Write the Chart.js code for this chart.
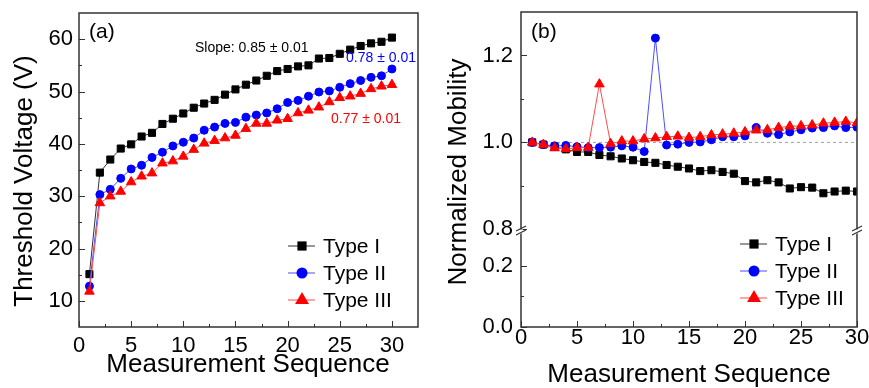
<!DOCTYPE html>
<html>
<head>
<meta charset="utf-8">
<script src="https://cdn.jsdelivr.net/npm/chart.js@4.4.0/dist/chart.umd.min.js"></script>
<style>
  html, body { margin: 0; padding: 0; background: #fff; }
  #wrap { position: relative; width: 869px; height: 388px; overflow: hidden; }
  canvas { position: absolute; top: 0; }
  #voltageChart { left: 0; }
  #mobilityChart { left: 435px; }
</style>
</head>
<body>
<div id="wrap">
  <canvas id="voltageChart" width="435" height="388"></canvas>
  <canvas id="mobilityChart" width="434" height="388"></canvas>
</div>
<script>
const sequence = [1, 2, 3, 4, 5, 6, 7, 8, 9, 10, 11, 12, 13, 14, 15,
  16, 17, 18, 19, 20, 21, 22, 23, 24, 25, 26, 27, 28, 29, 30];
const seriesNames = ["Type I", "Type II", "Type III"];

// (a) threshold voltage, V
const voltageTypeI = [15.1, 34.5, 37.0, 39.1, 39.9, 41.4, 42.1, 43.8, 44.8, 45.8,
  46.9, 47.7, 48.4, 49.4, 50.4, 51.3, 52.1, 53.0, 53.9, 54.3,
  54.8, 55.0, 56.3, 56.4, 57.2, 58.0, 58.7, 59.2, 59.5, 60.3];
const voltageTypeII = [12.8, 30.3, 31.3, 33.4, 35.2, 35.9, 37.4, 38.4, 39.6, 40.3,
  41.1, 42.6, 43.2, 43.9, 44.1, 45.1, 45.5, 45.9, 46.7, 47.9,
  48.3, 49.1, 49.9, 50.1, 50.8, 51.5, 52.1, 52.7, 53.0, 54.3];
const voltageTypeIII = [11.8, 28.7, 30.0, 30.9, 32.7, 33.8, 34.4, 36.3, 36.7, 37.6,
  38.9, 40.1, 40.6, 41.1, 41.6, 42.9, 43.9, 43.9, 44.5, 44.8,
  45.9, 46.4, 47.0, 48.0, 48.8, 49.1, 49.6, 50.5, 51.0, 51.3];
const slopeLabels = ["Slope: 0.85 \u00b1 0.01", "0.78 \u00b1 0.01", "0.77 \u00b1 0.01"];

// (b) normalized mobility
const mobilityTypeI = [1.000, 0.995, 0.990, 0.984, 0.978, 0.978, 0.971, 0.968, 0.963, 0.959,
  0.955, 0.953, 0.948, 0.944, 0.940, 0.934, 0.936, 0.932, 0.928, 0.911,
  0.908, 0.913, 0.908, 0.894, 0.897, 0.896, 0.883, 0.887, 0.889, 0.887];
const mobilityTypeII = [1.000, 0.995, 0.992, 0.993, 0.990, 0.988, 0.988, 0.989, 0.992, 0.989,
  0.979, 1.240, 0.994, 0.996, 1.000, 1.001, 1.006, 1.013, 1.013, 1.015,
  1.034, 1.021, 1.018, 1.024, 1.029, 1.033, 1.034, 1.038, 1.034, 1.035];
const mobilityTypeIII = [1.000, 0.995, 0.987, 0.985, 0.988, 0.988, 1.134, 0.997, 1.003, 1.003,
  1.008, 1.010, 1.013, 1.014, 1.011, 1.013, 1.017, 1.019, 1.021, 1.024,
  1.028, 1.029, 1.034, 1.037, 1.038, 1.040, 1.044, 1.046, 1.048, 1.045];
const unityLevel = [1.0, 1.0];
const unityRange = [0, 30];

// tick labels
const sequenceTicks = [0, 5, 10, 15, 20, 25, 30];
const sequenceMinor = [2.5, 7.5, 12.5, 17.5, 22.5, 27.5];
const voltageTicks = [10, 20, 30, 40, 50, 60];
const voltageMinor = [15, 25, 35, 45, 55];
const mobilityUpperTicks = [0.8, 1.0, 1.2];
const mobilityUpperMinor = [0.9, 1.1];
const mobilityLowerTicks = [0.0, 0.2];
const mobilityLowerMinor = [0.1];

const FONT = "'Liberation Sans', Arial, sans-serif";
const FRAME = "#333333";

const looks = [
  { marker: "rect", radius: 5, fill: "#000000", line: "#333333", legendRadius: 6.5 },
  { marker: "circle", radius: 4, fill: "#0000ff", line: "#4d4dff", legendRadius: 5.5 },
  { marker: "triangle", radius: 5.5, fill: "#ff0000", line: "#ff4d4d", legendRadius: 8 }
];

function points(values) {
  return sequence.map((x, i) => ({ x: x, y: values[i] }));
}

function series(i, values, yAxisID) {
  const s = looks[i];
  return {
    label: seriesNames[i],
    data: points(values),
    yAxisID: yAxisID,
    borderColor: s.line,
    borderWidth: 1,
    pointStyle: s.marker,
    pointRadius: s.radius,
    pointBackgroundColor: s.fill,
    pointBorderColor: s.fill,
    pointBorderWidth: 1,
    tension: 0,
    fill: false,
    order: 3 - i,
    legendIndex: i
  };
}

function fixedTicks(list) {
  return (scale) => { scale.ticks = list.map((v) => ({ value: v })); };
}

function fitX(height) {
  return (scale) => { scale.height = height; scale.paddingLeft = 0; scale.paddingRight = 0; };
}

function fitY(width) {
  return (scale) => { scale.width = width; scale.paddingTop = 0; scale.paddingBottom = 0; };
}

function axisBase(labelPad) {
  return {
    type: "linear",
    grid: { display: false, drawTicks: false },
    border: { display: false },
    ticks: {
      color: "#000",
      font: { family: FONT, size: 22 },
      padding: labelPad,
      autoSkip: false,
      maxRotation: 0
    }
  };
}

function drawMarker(ctx, style, x, y, r) {
  ctx.beginPath();
  if (style === "rect") {
    const h = r * Math.SQRT1_2;
    ctx.rect(x - h, y - h, 2 * h, 2 * h);
  } else if (style === "circle") {
    ctx.arc(x, y, r, 0, Math.PI * 2);
  } else {
    ctx.moveTo(x, y - r);
    ctx.lineTo(x + r * Math.sin(Math.PI * 2 / 3), y + r / 2);
    ctx.lineTo(x - r * Math.sin(Math.PI * 2 / 3), y + r / 2);
    ctx.closePath();
  }
  ctx.fill();
}

function tickMarks(ctx, scale, values, len, area) {
  ctx.beginPath();
  values.forEach((v) => {
    const p = Math.round(scale.getPixelForValue(v)) + 0.5;
    if (scale.isHorizontal()) {
      ctx.moveTo(p, area.bottom);
      ctx.lineTo(p, area.bottom - len);
    } else {
      ctx.moveTo(area.left, p);
      ctx.lineTo(area.left + len, p);
    }
  });
  ctx.stroke();
}

const decor = {
  id: "decor",
  afterDraw(chart, args, opts) {
    const ctx = chart.ctx;
    const area = chart.chartArea;
    ctx.save();
    ctx.strokeStyle = FRAME;
    ctx.lineWidth = 1;
    opts.ticks.forEach((t) => {
      tickMarks(ctx, chart.scales[t.axis], t.major, 6, area);
      tickMarks(ctx, chart.scales[t.axis], t.minor, 3, area);
    });
    ctx.lineWidth = 1.5;
    ctx.strokeRect(area.left, area.top, area.right - area.left, area.bottom - area.top);

    if (opts.breakAt) {
      const yb = chart.scales[opts.breakAt].bottom;
      [area.left, area.right].forEach((xb) => {
        ctx.fillStyle = "#fff";
        ctx.fillRect(xb - 2, yb - 2, 4, 4);
        ctx.lineWidth = 1.2;
        ctx.beginPath();
        ctx.moveTo(xb - 5, yb - 0.5);
        ctx.lineTo(xb + 5, yb - 5.5);
        ctx.moveTo(xb - 5, yb + 3.5);
        ctx.lineTo(xb + 5, yb - 1.5);
        ctx.stroke();
      });
    }

    opts.texts.forEach((t) => {
      ctx.save();
      ctx.font = t.size + "px " + FONT;
      ctx.fillStyle = t.color || "#000";
      ctx.textAlign = t.align || "left";
      ctx.textBaseline = t.baseline || "middle";
      ctx.translate(t.x, t.y);
      if (t.rotate) ctx.rotate(-Math.PI / 2);
      ctx.fillText(t.text, 0, 0);
      ctx.restore();
    });

    const lg = opts.legend;
    chart.data.datasets.filter((d) => d.legendIndex !== undefined).forEach((d, k) => {
      const s = looks[d.legendIndex];
      const y = lg.y + k * lg.gap;
      ctx.strokeStyle = s.line;
      ctx.lineWidth = 1;
      ctx.beginPath();
      ctx.moveTo(lg.x, y);
      ctx.lineTo(lg.x + 27, y);
      ctx.stroke();
      ctx.fillStyle = s.fill;
      drawMarker(ctx, s.marker, lg.x + 14, y, s.legendRadius);
      ctx.fillStyle = "#000";
      ctx.font = "21px " + FONT;
      ctx.textAlign = "left";
      ctx.textBaseline = "middle";
      ctx.fillText(d.label, lg.x + 35, y + 1);
    });
    ctx.restore();
  }
};

const common = {
  responsive: false,
  animation: false,
  events: [],
  plugins: { legend: { display: false }, tooltip: { enabled: false } }
};

new Chart(document.getElementById("voltageChart"), {
  type: "line",
  data: {
    datasets: [
      series(0, voltageTypeI, "y"),
      series(1, voltageTypeII, "y"),
      series(2, voltageTypeIII, "y")
    ]
  },
  options: {
    ...common,
    layout: { padding: { top: 13, right: 17, left: 0, bottom: 0 } },
    scales: {
      x: { ...axisBase(6), min: 0, max: 32.5,
        afterBuildTicks: fixedTicks(sequenceTicks), afterFit: fitX(61) },
      y: { ...axisBase(6), min: 5, max: 65,
        afterBuildTicks: fixedTicks(voltageTicks), afterFit: fitY(79) }
    },
    plugins: {
      ...common.plugins,
      decor: {
        ticks: [
          { axis: "x", major: sequenceTicks, minor: sequenceMinor },
          { axis: "y", major: voltageTicks, minor: voltageMinor }
        ],
        texts: [
          { text: "(a)", x: 89, y: 32, size: 21 },
          { text: slopeLabels[0], x: 195, y: 48, size: 14 },
          { text: slopeLabels[1], x: 346, y: 58, size: 14, color: "#0000ff" },
          { text: slopeLabels[2], x: 331, y: 119, size: 14, color: "#ff0000" },
          { text: "Threshold Voltage (V)", x: 32, y: 181, size: 26, rotate: true,
            align: "center", baseline: "alphabetic" },
          { text: "Measurement Sequence", x: 248, y: 372, size: 26, align: "center",
            baseline: "alphabetic" }
        ],
        legend: { x: 288, y: 246, gap: 27 }
      }
    }
  },
  plugins: [decor]
});

new Chart(document.getElementById("mobilityChart"), {
  type: "line",
  data: {
    datasets: [
      series(0, mobilityTypeI, "y"),
      series(1, mobilityTypeII, "y"),
      series(2, mobilityTypeIII, "y"),
      {
        label: "unity",
        data: unityRange.map((x, i) => ({ x: x, y: unityLevel[i] })),
        yAxisID: "y",
        borderColor: "#a0a0a0",
        borderWidth: 1,
        borderDash: [3, 3],
        pointRadius: 0,
        order: 10
      }
    ]
  },
  options: {
    ...common,
    layout: { padding: { top: 12, right: 12, left: 0, bottom: 0 } },
    scales: {
      x: { ...axisBase(-2), min: 0, max: 30,
        afterBuildTicks: fixedTicks(sequenceTicks), afterFit: fitX(61) },
      yLow: { ...axisBase(8), position: "left", stack: "mobility", stackWeight: 95.5,
        min: 0, max: 0.313,
        ticks: { ...axisBase(8).ticks, callback: (v) => v.toFixed(1) },
        afterBuildTicks: fixedTicks(mobilityLowerTicks), afterFit: fitY(86) },
      y: { ...axisBase(8), position: "left", stack: "mobility", stackWeight: 219.5,
        min: 0.795, max: 1.3,
        ticks: { ...axisBase(8).ticks, callback: (v) => v.toFixed(1) },
        afterBuildTicks: fixedTicks(mobilityUpperTicks), afterFit: fitY(86) }
    },
    plugins: {
      ...common.plugins,
      decor: {
        ticks: [
          { axis: "x", major: sequenceTicks, minor: sequenceMinor },
          { axis: "y", major: mobilityUpperTicks, minor: mobilityUpperMinor },
          { axis: "yLow", major: mobilityLowerTicks, minor: mobilityLowerMinor }
        ],
        breakAt: "y",
        texts: [
          { text: "(b)", x: 96, y: 32, size: 21 },
          { text: "Normalized Mobility", x: 31, y: 172, size: 26, rotate: true,
            align: "center", baseline: "alphabetic" },
          { text: "Measurement Sequence", x: 254, y: 382, size: 26, align: "center",
            baseline: "alphabetic" }
        ],
        legend: { x: 305, y: 244, gap: 27 }
      }
    }
  },
  plugins: [decor]
});
</script>
</body>
</html>
